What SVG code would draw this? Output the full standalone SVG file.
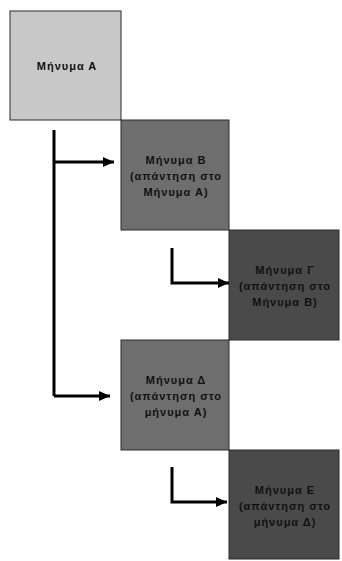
<svg xmlns="http://www.w3.org/2000/svg" width="342" height="561" viewBox="0 0 342 561">
  <style>
    .box { stroke: #2a2a2a; stroke-width: 1; }
    .light { fill: #c8c8c8; }
    .mid { fill: #6e6e6e; }
    .dark { fill: #4a4a4a; }
    .lbl { font-family: "Liberation Sans", Arial, sans-serif; font-size: 11px; font-weight: bold; fill: #111; text-anchor: middle; letter-spacing: 1px; }
    .con { fill: none; stroke: #000; stroke-width: 3; stroke-linejoin: miter; }
  </style>
  <defs>
    <marker id="ah" markerUnits="userSpaceOnUse" markerWidth="12" markerHeight="12" viewBox="0 0 12 12" refX="11" refY="6" orient="auto">
      <path d="M0,1 L11,6 L0,11 Z" fill="#000"/>
    </marker>
  </defs>
  <rect width="342" height="561" fill="#fff"/>
  <g id="msgA">
    <rect class="box light" x="10" y="11" width="111" height="109"/>
    <text class="lbl" x="67" y="70">Μήνυμα Α</text>
  </g>
  <g id="msgB">
    <rect class="box mid" x="121" y="120" width="108" height="110"/>
    <text class="lbl" x="176" y="164">Μήνυμα Β</text>
    <text class="lbl" x="176" y="180">(απάντηση στο</text>
    <text class="lbl" x="176" y="196">Μήνυμα Α)</text>
  </g>
  <g id="msgG">
    <rect class="box dark" x="229" y="230" width="110" height="110"/>
    <text class="lbl" x="285" y="274">Μήνυμα Γ</text>
    <text class="lbl" x="285" y="290">(απάντηση στο</text>
    <text class="lbl" x="285" y="306">Μήνυμα Β)</text>
  </g>
  <g id="msgD">
    <rect class="box mid" x="121" y="340" width="108" height="110"/>
    <text class="lbl" x="176" y="384">Μήνυμα Δ</text>
    <text class="lbl" x="176" y="400">(απάντηση στο</text>
    <text class="lbl" x="176" y="416">μήνυμα Α)</text>
  </g>
  <g id="msgE">
    <rect class="box dark" x="229" y="450" width="110" height="109"/>
    <text class="lbl" x="285" y="494">Μήνυμα Ε</text>
    <text class="lbl" x="285" y="510">(απάντηση στο</text>
    <text class="lbl" x="285" y="526">μήνυμα Δ)</text>
  </g>
  <g id="connectors">
    <path class="con" d="M54,130 V396"/>
    <path class="con" d="M54,162 H114" marker-end="url(#ah)"/>
    <path class="con" d="M54,396 H110" marker-end="url(#ah)"/>
    <path class="con" d="M172,248 V283 H229" marker-end="url(#ah)"/>
    <path class="con" d="M172,467 V502 H227" marker-end="url(#ah)"/>
  </g>
</svg>
